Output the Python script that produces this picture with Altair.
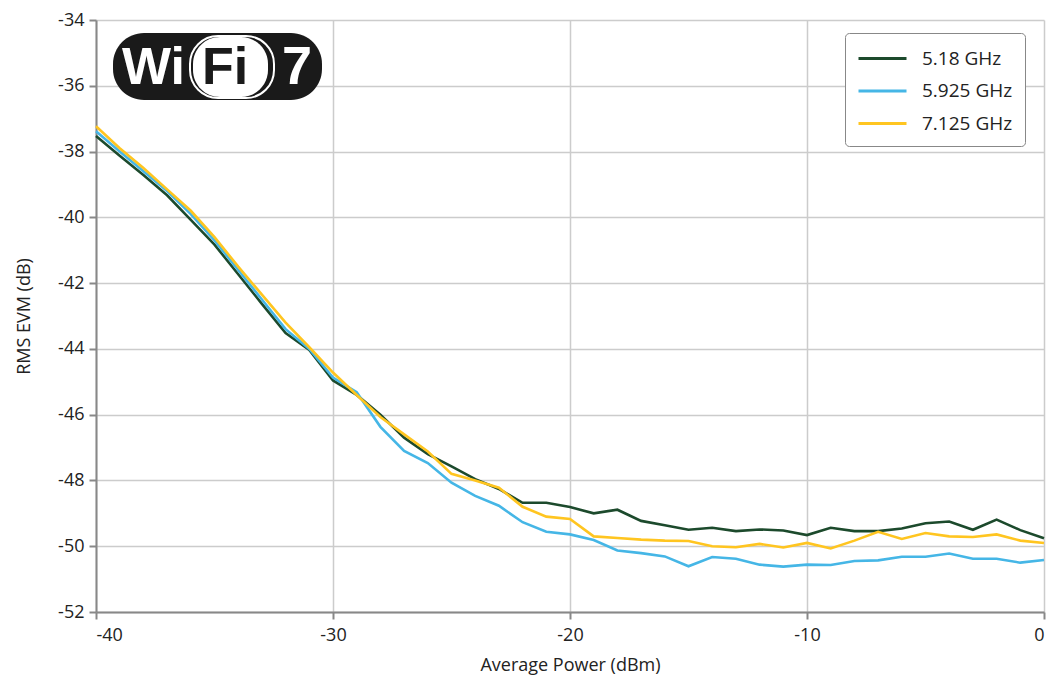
import altair as alt
import pandas as pd

power = list(range(-40, 1))

evm_518 = [-37.53, -38.13, -38.71, -39.33, -40.08, -40.83, -41.73, -42.63, -43.52, -44.03,
           -44.96, -45.40, -46.00, -46.70, -47.20, -47.57, -47.96, -48.26, -48.68, -48.68,
           -48.81, -49.00, -48.89, -49.23, -49.36, -49.50, -49.44, -49.54, -49.49, -49.52,
           -49.66, -49.44, -49.54, -49.54, -49.46, -49.30, -49.25, -49.50, -49.19, -49.51,
           -49.76]
evm_5925 = [-37.38, -38.00, -38.60, -39.20, -39.90, -40.70, -41.60, -42.50, -43.40, -44.00,
            -44.87, -45.32, -46.37, -47.10, -47.47, -48.07, -48.47, -48.77, -49.27, -49.56,
            -49.64, -49.81, -50.13, -50.21, -50.31, -50.61, -50.33, -50.38, -50.56, -50.62,
            -50.56, -50.57, -50.45, -50.43, -50.32, -50.32, -50.22, -50.38, -50.38, -50.50,
            -50.42]
evm_7125 = [-37.23, -37.90, -38.50, -39.15, -39.80, -40.60, -41.50, -42.35, -43.20, -43.95,
            -44.72, -45.40, -46.07, -46.60, -47.12, -47.80, -48.00, -48.22, -48.80, -49.10,
            -49.17, -49.70, -49.75, -49.80, -49.83, -49.84, -50.00, -50.03, -49.93, -50.04,
            -49.90, -50.07, -49.83, -49.56, -49.78, -49.60, -49.70, -49.72, -49.64, -49.83,
            -49.90]

series_names = ["5.18 GHz", "5.925 GHz", "7.125 GHz"]
series_colors = ["#1c4a2c", "#45b6e6", "#ffc520"]

rows = []
for name, vals in zip(series_names, [evm_518, evm_5925, evm_7125]):
    for p, v in zip(power, vals):
        rows.append({"power": p, "evm": v, "series": name})
df = pd.DataFrame(rows)

FONT = "Open Sans"
W, H = 948, 592
TOP = 12
PAD_L = 88

lines = alt.Chart(df).mark_line(strokeWidth=2.6).encode(
    x=alt.X("power:Q", scale=alt.Scale(domain=[-40, 0], nice=False),
            axis=alt.Axis(values=[-40, -30, -20, -10, 0], title="Average Power (dBm)",
                          labelExpr="'' + datum.value", titlePadding=12, labelPadding=7)),
    y=alt.Y("evm:Q", scale=alt.Scale(domain=[-52, -34], nice=False, zero=False),
            axis=alt.Axis(values=list(range(-52, -33, 2)), title="RMS EVM (dB)",
                          labelExpr="'' + datum.value", titlePadding=24, labelPadding=5)),
    color=alt.Color("series:N", scale=alt.Scale(domain=series_names, range=series_colors),
                    legend=alt.Legend(title=None, orient="none",
                                      legendX=845 - 8 - PAD_L, legendY=33 - 8 - TOP,
                                      symbolType="M-1,0L3,0", symbolSize=576, symbolStrokeWidth=3,
                                      labelFontSize=19, labelFont=FONT, labelColor="#222",
                                      padding=12, rowPadding=8.5, labelOffset=38,
                                      strokeColor="#888", fillColor="white",
                                      cornerRadius=4)),
)

# WiFi 7 badge (decoration)
one = pd.DataFrame({"a": [0]})
by = 33 - 8 - TOP
bx = 113 - 8 - PAD_L
badge = alt.Chart(one).mark_rect(color="#1a1a1a", cornerRadius=31).encode(
    x=alt.value(bx), x2=alt.value(bx + 209), y=alt.value(by), y2=alt.value(by + 67))
bubble_outline = alt.Chart(one).mark_rect(
    fill="#1a1a1a", stroke="white", strokeWidth=2, cornerRadius=28).encode(
    x=alt.value(bx + 77), x2=alt.value(bx + 161), y=alt.value(by + 3), y2=alt.value(by + 65))
bubble = alt.Chart(one).mark_rect(fill="white", cornerRadius=27).encode(
    x=alt.value(bx + 80), x2=alt.value(bx + 155), y=alt.value(by + 4), y2=alt.value(by + 64))
wi = alt.Chart(pd.DataFrame({"t": ["Wi"]})).mark_text(
    font="Liberation Sans", fontWeight="bold", fontSize=52, color="white", align="left",
    baseline="middle").encode(text="t:N", x=alt.value(bx + 9), y=alt.value(by + 35))
fi = alt.Chart(pd.DataFrame({"t": ["Fi"]})).mark_text(
    font="Liberation Sans", fontWeight="bold", fontSize=52, color="#1a1a1a", align="left",
    baseline="middle").encode(text="t:N", x=alt.value(bx + 89), y=alt.value(by + 35))
seven = alt.Chart(pd.DataFrame({"t": ["7"]})).mark_text(
    font="Liberation Sans", fontWeight="bold", fontSize=54, color="white", align="left",
    baseline="middle").encode(text="t:N", x=alt.value(bx + 169), y=alt.value(by + 35))

chart = alt.layer(lines, badge, bubble_outline, bubble, wi, fi, seven).properties(
    width=W, height=H, padding={"left": PAD_L, "top": TOP, "right": 6, "bottom": 66},
    autosize=alt.AutoSizeParams(type="none"),
).configure_view(stroke=None).configure_axis(
    labelFont=FONT, titleFont=FONT, labelFontSize=18, titleFontSize=18,
    labelColor="#222", titleColor="#222", titleFontWeight="normal",
    gridColor="#cccccc", gridWidth=1.5, domainColor="#888888", domainWidth=2,
    tickColor="#888888", tickWidth=2, tickSize=7,
)

chart.save("out.html", embed_options={"renderer": "svg", "actions": False})
